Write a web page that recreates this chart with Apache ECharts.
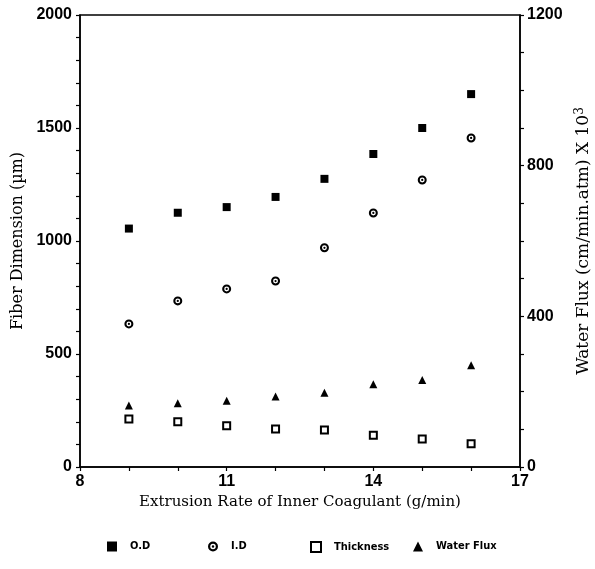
<!DOCTYPE html>
<html>
<head>
<meta charset="utf-8">
<script src="https://cdn.jsdelivr.net/npm/echarts@6/dist/echarts.min.js"></script>
<style>
  html, body { margin: 0; padding: 0; background: #fff; }
  #chart { width: 595px; height: 569px; }
</style>
</head>
<body>
<div id="chart"></div>
<script>
// extrusion rate of inner coagulant (g/min)
const rates = [9, 10, 11, 12, 13, 14, 15, 16];
// fiber dimensions (um), left axis
const outerDia = [1055, 1125, 1150, 1195, 1275, 1385, 1500, 1650];
const innerDia = [633, 735, 788, 823, 970, 1124, 1270, 1456];
const thickness = [212, 200, 183, 168, 164, 140, 124, 103];
// water flux (x10^3), right axis
const waterFlux = [163, 169, 176, 187, 197, 220, 231, 270];

const xLabels = [8, 11, 14, 17];
const leftLabels = [0, 500, 1000, 1500, 2000];
const rightLabels = [0, 400, 800, 1200];

const pairs = ys => rates.map((r, i) => [r, ys[i]]);

// ring with a dot in the middle (I.D marker)
const ringDot = 'path://M0,-10A10,10 0 1,1 0,10A10,10 0 1,1 0,-10Z' +
    'M0,-5.5A5.5,5.5 0 1,0 0,5.5A5.5,5.5 0 1,0 0,-5.5Z' +
    'M0,-2.5A2.5,2.5 0 1,1 0,2.5A2.5,2.5 0 1,1 0,-2.5Z';

const tickFont = { fontFamily: 'Liberation Sans', fontWeight: 'bold', fontSize: 16, color: '#000' };
const titleFont = size => ({ fontFamily: 'DejaVu Serif', fontSize: size, color: '#000' });
const legendFont = { fontFamily: 'Liberation Sans Narrow, DejaVu Sans Condensed', fontWeight: 'bold', fontSize: 11, color: '#000', padding: [0, 0, 0, 8] };

const chart = echarts.init(document.getElementById('chart'));

function legendAt(name, left) {
    return { data: [name], left: left, top: 536, itemWidth: 10, itemHeight: 10, textStyle: legendFont, selectedMode: false };
}

const axisLine = { show: true, lineStyle: { color: '#000', width: 1.5 } };
const axisTick = { show: true, length: 4, lineStyle: { color: '#000', width: 1.2 } };

const option = {
    animation: false,
    grid: {
        left: 80, right: 75, top: 15, bottom: 102,
        outerBoundsMode: 'none', containLabel: false,
        show: true, borderColor: '#000', borderWidth: 1.5
    },
    legend: [
        legendAt('O.D', 102),
        legendAt('I.D', 203),
        legendAt('Thickness', 305),
        legendAt('Water Flux', 408)
    ],
    xAxis: {
        type: 'value', min: 8, max: 17, interval: 1,
        name: 'Extrusion Rate of Inner Coagulant (g/min)',
        nameLocation: 'middle', nameGap: 26, nameTextStyle: titleFont(15),
        axisLine: axisLine, axisTick: axisTick,
        splitLine: { show: false },
        axisLabel: Object.assign({}, tickFont, {
            margin: 7,
            formatter: v => xLabels.includes(v) ? String(v) : ''
        })
    },
    yAxis: [{
        type: 'value', min: 0, max: 2000, interval: 100,
        name: 'Fiber Dimension (µm)',
        nameLocation: 'middle', nameGap: 52, nameTextStyle: titleFont(16),
        axisLine: axisLine, axisTick: axisTick,
        splitLine: { show: false },
        axisLabel: Object.assign({}, tickFont, {
            margin: 8,
            formatter: v => leftLabels.includes(v) ? String(v) : ''
        })
    }, {
        type: 'value', min: 0, max: 1200, interval: 100, position: 'right',
        name: 'Water Flux (cm/min.atm) X 10{sup|3}',
        nameLocation: 'middle', nameGap: 50, nameRotate: 90,
        nameTextStyle: Object.assign(titleFont(17), {
            rich: { sup: { fontFamily: 'DejaVu Serif', fontSize: 12, color: '#000', verticalAlign: 'top', padding: [0, 0, 9, 0] } }
        }),
        axisLine: axisLine, axisTick: axisTick,
        splitLine: { show: false },
        axisLabel: Object.assign({}, tickFont, {
            margin: 7,
            formatter: v => rightLabels.includes(v) ? String(v) : ''
        })
    }],
    series: [{
        name: 'O.D', type: 'scatter', symbol: 'rect', symbolSize: 8,
        itemStyle: { color: '#000', opacity: 1 },
        data: pairs(outerDia)
    }, {
        name: 'I.D', type: 'scatter', symbol: ringDot, symbolSize: 9,
        itemStyle: { color: '#000', opacity: 1 },
        data: pairs(innerDia)
    }, {
        name: 'Thickness', type: 'scatter', symbol: 'emptyRect', symbolSize: 7,
        itemStyle: { color: '#000', borderColor: '#000', borderWidth: 1.5, opacity: 1 },
        data: pairs(thickness)
    }, {
        name: 'Water Flux', type: 'scatter', symbol: 'triangle', symbolSize: 8, yAxisIndex: 1,
        itemStyle: { color: '#000', opacity: 1 },
        data: pairs(waterFlux)
    }]
};

chart.setOption(option);
</script>
</body>
</html>
